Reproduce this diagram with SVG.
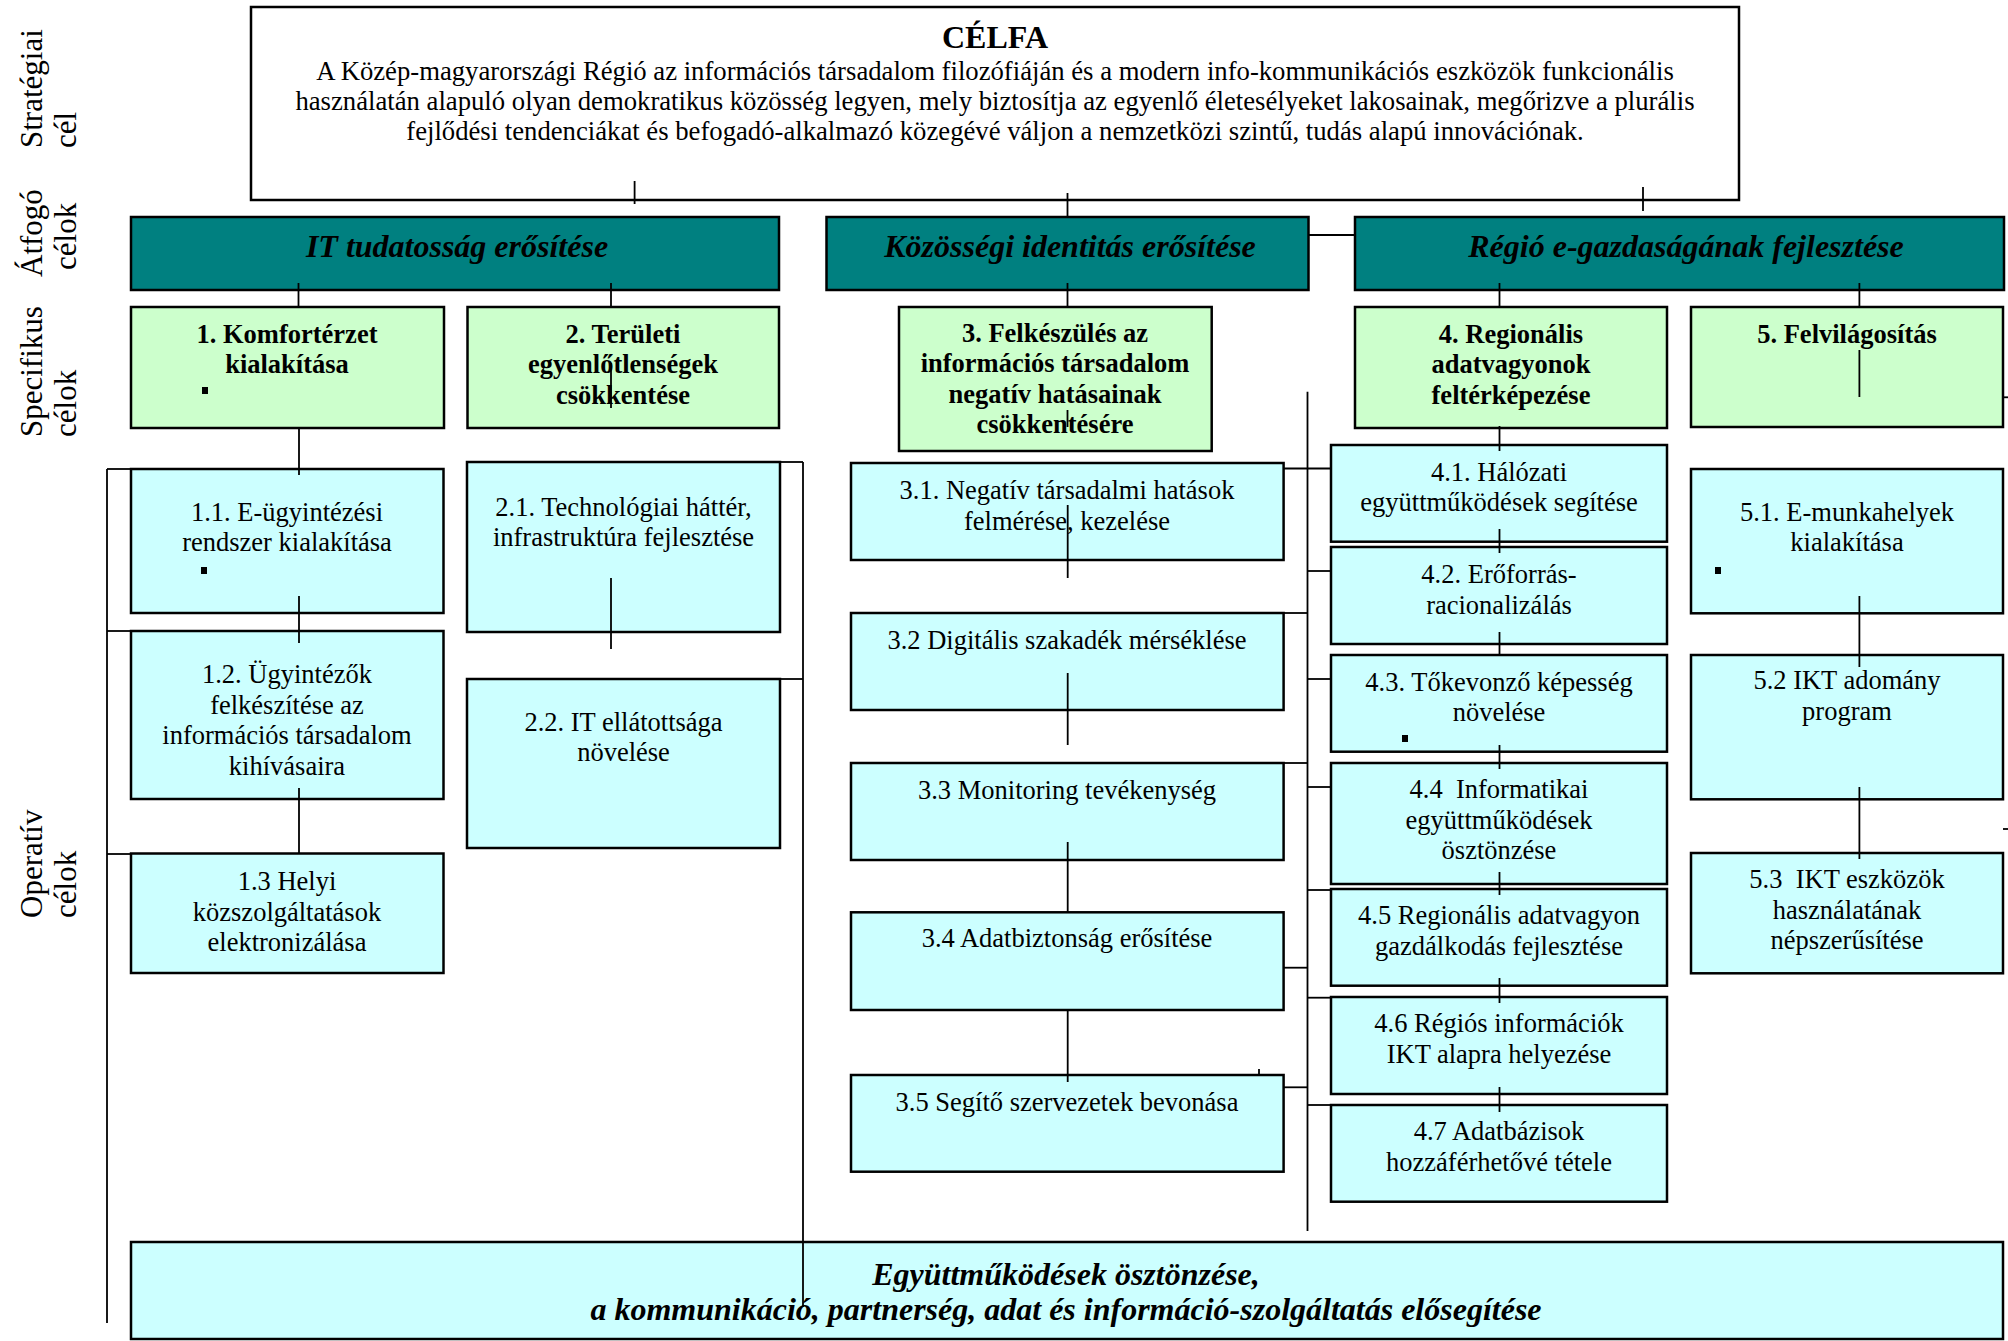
<svg xmlns="http://www.w3.org/2000/svg" width="2008" height="1341" viewBox="0 0 2008 1341">
<style>
  .bx{stroke:#000;stroke-width:2.5}
  .white{fill:#fff}
  .teal{fill:#008080}
  .green{fill:#CCFFCC}
  .cyan{fill:#CCFFFF}
  text{font-family:"Liberation Serif","Times New Roman",serif;fill:#000}
  .t{font-size:26.5px;text-anchor:middle}
  .tb{font-size:26.5px;text-anchor:middle;font-weight:bold}
  .tbi{font-size:32px;text-anchor:middle;font-weight:bold;font-style:italic}
  .body{font-size:26.7px;text-anchor:middle}
  .title{font-size:32px;text-anchor:middle;font-weight:bold}
  .lbl{font-size:31px}
  .cn line{stroke:#000;stroke-width:1.8}
  .dot{fill:#000}
</style>

<g id="labels">
  <text class="lbl" transform="translate(42,148) rotate(-90)">Stratégiai</text>
  <text class="lbl" transform="translate(76,148) rotate(-90)">cél</text>
  <text class="lbl" transform="translate(42,277) rotate(-90)">Átfogó</text>
  <text class="lbl" transform="translate(76,270) rotate(-90)">célok</text>
  <text class="lbl" transform="translate(42,437) rotate(-90)">Specifikus</text>
  <text class="lbl" transform="translate(76,437) rotate(-90)">célok</text>
  <text class="lbl" transform="translate(42,918) rotate(-90)">Operatív</text>
  <text class="lbl" transform="translate(76,918) rotate(-90)">célok</text>
</g>

<g id="celfa">
  <rect class="bx white" x="251" y="7" width="1488" height="193"/>
  <text class="title" x="995" y="48">CÉLFA</text>
  <text class="body" x="995" y="80">A Közép-magyarországi Régió az információs társadalom filozófiáján és a modern info-kommunikációs eszközök funkcionális</text>
  <text class="body" x="995" y="110">használatán alapuló olyan demokratikus közösség legyen, mely biztosítja az egyenlő életesélyeket lakosainak, megőrizve a plurális</text>
  <text class="body" x="995" y="140">fejlődési tendenciákat és befogadó-alkalmazó közegévé váljon a nemzetközi szintű, tudás alapú innovációnak.</text>
</g>

<g id="atfogo1">
  <rect class="bx teal" x="131" y="217" width="648" height="73"/>
  <text class="tbi" x="457" y="257">IT tudatosság erősítése</text>
</g>
<g id="atfogo2">
  <rect class="bx teal" x="826.5" y="217" width="482" height="73"/>
  <text class="tbi" x="1070" y="257">Közösségi identitás erősítése</text>
</g>
<g id="atfogo3">
  <rect class="bx teal" x="1355" y="217" width="649" height="73"/>
  <text class="tbi" x="1686" y="257">Régió e-gazdaságának fejlesztése</text>
</g>

<g id="spec1">
  <rect class="bx green" x="131" y="307" width="313" height="121"/>
  <text class="tb" x="287" y="342.5">1. Komfortérzet</text>
  <text class="tb" x="287" y="373">kialakítása</text>
  <rect class="dot" x="202" y="387" width="6" height="7"/>
</g>
<g id="spec2">
  <rect class="bx green" x="467.5" y="307" width="311.5" height="121"/>
  <text class="tb" x="623" y="342.5">2. Területi</text>
  <text class="tb" x="623" y="373">egyenlőtlenségek</text>
  <text class="tb" x="623" y="403.5">csökkentése</text>
</g>
<g id="spec3">
  <rect class="bx green" x="899" y="307" width="312.7" height="144"/>
  <text class="tb" x="1055" y="341.5">3. Felkészülés az</text>
  <text class="tb" x="1055" y="372">információs társadalom</text>
  <text class="tb" x="1055" y="402.5">negatív hatásainak</text>
  <text class="tb" x="1055" y="433">csökkentésére</text>
</g>
<g id="spec4">
  <rect class="bx green" x="1355" y="307" width="312" height="121"/>
  <text class="tb" x="1511" y="342.5">4. Regionális</text>
  <text class="tb" x="1511" y="373">adatvagyonok</text>
  <text class="tb" x="1511" y="403.5">feltérképezése</text>
</g>
<g id="spec5">
  <rect class="bx green" x="1691" y="307" width="312" height="120"/>
  <text class="tb" x="1847" y="342.5">5. Felvilágosítás</text>
</g>

<g id="op11">
  <rect class="bx cyan" x="131" y="469" width="312.5" height="144"/>
  <text class="t" x="287" y="520.5">1.1. E-ügyintézési</text>
  <text class="t" x="287" y="551">rendszer kialakítása</text>
  <rect class="dot" x="201" y="567" width="6" height="7"/>
</g>
<g id="op12">
  <rect class="bx cyan" x="131" y="631" width="312.5" height="168"/>
  <text class="t" x="287" y="683">1.2. Ügyintézők</text>
  <text class="t" x="287" y="713.5">felkészítése az</text>
  <text class="t" x="287" y="744">információs társadalom</text>
  <text class="t" x="287" y="774.5">kihívásaira</text>
</g>
<g id="op13">
  <rect class="bx cyan" x="131" y="853.5" width="312.5" height="119.5"/>
  <text class="t" x="287" y="890">1.3 Helyi</text>
  <text class="t" x="287" y="920.5">közszolgáltatások</text>
  <text class="t" x="287" y="951">elektronizálása</text>
</g>
<g id="op21">
  <rect class="bx cyan" x="467" y="462" width="313" height="170"/>
  <text class="t" x="623.5" y="515.5">2.1. Technológiai háttér,</text>
  <text class="t" x="623.5" y="546">infrastruktúra fejlesztése</text>
</g>
<g id="op22">
  <rect class="bx cyan" x="467" y="679" width="313" height="169"/>
  <text class="t" x="623.5" y="730.5">2.2. IT ellátottsága</text>
  <text class="t" x="623.5" y="761">növelése</text>
</g>
<g id="op31">
  <rect class="bx cyan" x="851" y="463" width="432.6" height="97"/>
  <text class="t" x="1067" y="499">3.1. Negatív társadalmi hatások</text>
  <text class="t" x="1067" y="529.5">felmérése, kezelése</text>
</g>
<g id="op32">
  <rect class="bx cyan" x="851" y="613" width="432.6" height="97"/>
  <text class="t" x="1067" y="649">3.2 Digitális szakadék mérséklése</text>
</g>
<g id="op33">
  <rect class="bx cyan" x="851" y="763" width="432.6" height="97"/>
  <text class="t" x="1067" y="799">3.3 Monitoring tevékenység</text>
</g>
<g id="op34">
  <rect class="bx cyan" x="851" y="912.3" width="432.6" height="97.7"/>
  <text class="t" x="1067" y="947">3.4 Adatbiztonság erősítése</text>
</g>
<g id="op35">
  <rect class="bx cyan" x="851" y="1075" width="432.6" height="96.7"/>
  <text class="t" x="1067" y="1110.5">3.5 Segítő szervezetek bevonása</text>
</g>
<g id="op41">
  <rect class="bx cyan" x="1331" y="445" width="336" height="96.7"/>
  <text class="t" x="1499" y="480.5">4.1. Hálózati</text>
  <text class="t" x="1499" y="511">együttműködések segítése</text>
</g>
<g id="op42">
  <rect class="bx cyan" x="1331" y="547" width="336" height="97"/>
  <text class="t" x="1499" y="583">4.2. Erőforrás-</text>
  <text class="t" x="1499" y="613.5">racionalizálás</text>
</g>
<g id="op43">
  <rect class="bx cyan" x="1331" y="655" width="336" height="96.7"/>
  <text class="t" x="1499" y="690.5">4.3. Tőkevonző képesség</text>
  <text class="t" x="1499" y="721">növelése</text>
  <rect class="dot" x="1402" y="735" width="6" height="7"/>
</g>
<g id="op44">
  <rect class="bx cyan" x="1331" y="763" width="336" height="121"/>
  <text class="t" x="1499" y="798" xml:space="preserve">4.4  Informatikai</text>
  <text class="t" x="1499" y="828.5">együttműködések</text>
  <text class="t" x="1499" y="859">ösztönzése</text>
</g>
<g id="op45">
  <rect class="bx cyan" x="1331" y="889" width="336" height="96.7"/>
  <text class="t" x="1499" y="924">4.5 Regionális adatvagyon</text>
  <text class="t" x="1499" y="954.5">gazdálkodás fejlesztése</text>
</g>
<g id="op46">
  <rect class="bx cyan" x="1331" y="997" width="336" height="97"/>
  <text class="t" x="1499" y="1032">4.6 Régiós információk</text>
  <text class="t" x="1499" y="1062.5">IKT alapra helyezése</text>
</g>
<g id="op47">
  <rect class="bx cyan" x="1331" y="1105" width="336" height="96.7"/>
  <text class="t" x="1499" y="1140">4.7 Adatbázisok</text>
  <text class="t" x="1499" y="1170.5">hozzáférhetővé tétele</text>
</g>
<g id="op51">
  <rect class="bx cyan" x="1691" y="469" width="312" height="144.3"/>
  <text class="t" x="1847" y="520.5">5.1. E-munkahelyek</text>
  <text class="t" x="1847" y="551">kialakítása</text>
  <rect class="dot" x="1715" y="567" width="6" height="7"/>
</g>
<g id="op52">
  <rect class="bx cyan" x="1691" y="655" width="312" height="144.3"/>
  <text class="t" x="1847" y="689">5.2 IKT adomány</text>
  <text class="t" x="1847" y="719.5">program</text>
</g>
<g id="op53">
  <rect class="bx cyan" x="1691" y="853" width="312" height="120.3"/>
  <text class="t" x="1847" y="888" xml:space="preserve">5.3  IKT eszközök</text>
  <text class="t" x="1847" y="918.5">használatának</text>
  <text class="t" x="1847" y="949">népszerűsítése</text>
</g>
<g id="horizontal">
  <rect class="bx cyan" x="131" y="1242" width="1872" height="97"/>
  <text class="tbi" x="1066" y="1285">Együttműködések ösztönzése,</text>
  <text class="tbi" x="1066" y="1320">a kommunikáció, partnerség, adat és információ-szolgáltatás elősegítése</text>
</g>

<g id="connectors" class="cn">
  <line x1="634.6" y1="181" x2="634.6" y2="204"/>
  <line x1="1067.5" y1="193" x2="1067.5" y2="217"/>
  <line x1="1643" y1="187" x2="1643" y2="211"/>
  <line x1="1308" y1="235" x2="1355" y2="235"/>
  <line x1="298.5" y1="283" x2="298.5" y2="307"/>
  <line x1="611" y1="283" x2="611" y2="307"/>
  <line x1="1067.5" y1="283" x2="1067.5" y2="307"/>
  <line x1="1499.5" y1="283" x2="1499.5" y2="307"/>
  <line x1="1859.4" y1="283" x2="1859.4" y2="307"/>
  <line x1="611" y1="363" x2="611" y2="408"/>
  <line x1="1067.5" y1="410" x2="1067.5" y2="427"/>
  <line x1="1859.4" y1="350" x2="1859.4" y2="397"/>
  <line x1="2003" y1="397.3" x2="2008" y2="397.3"/>
  <line x1="299" y1="428" x2="299" y2="475"/>
  <line x1="299" y1="596" x2="299" y2="643"/>
  <line x1="299" y1="788" x2="299" y2="853"/>
  <line x1="107" y1="469" x2="107" y2="1323"/>
  <line x1="107" y1="469" x2="131" y2="469"/>
  <line x1="107" y1="631" x2="131" y2="631"/>
  <line x1="107" y1="854" x2="131" y2="854"/>
  <line x1="611" y1="578" x2="611" y2="649"/>
  <line x1="803" y1="462" x2="803" y2="1307"/>
  <line x1="780" y1="462" x2="803" y2="462"/>
  <line x1="780" y1="679" x2="803" y2="679"/>
  <line x1="1067.7" y1="505" x2="1067.7" y2="578"/>
  <line x1="1067.7" y1="673" x2="1067.7" y2="745"/>
  <line x1="1067.7" y1="842" x2="1067.7" y2="912"/>
  <line x1="1067.7" y1="1010" x2="1067.7" y2="1082"/>
  <line x1="1259" y1="1069" x2="1259" y2="1075"/>
  <line x1="1307.5" y1="391.7" x2="1307.5" y2="1231"/>
  <line x1="1283" y1="468.5" x2="1331" y2="468.5"/>
  <line x1="1283" y1="613" x2="1307.5" y2="613"/>
  <line x1="1283" y1="763" x2="1307.5" y2="763"/>
  <line x1="1283" y1="967.7" x2="1307.5" y2="967.7"/>
  <line x1="1283" y1="1087.3" x2="1307.5" y2="1087.3"/>
  <line x1="1307.5" y1="571" x2="1331" y2="571"/>
  <line x1="1307.5" y1="679" x2="1331" y2="679"/>
  <line x1="1307.5" y1="787" x2="1331" y2="787"/>
  <line x1="1307.5" y1="890" x2="1331" y2="890"/>
  <line x1="1307.5" y1="997.7" x2="1331" y2="997.7"/>
  <line x1="1307.5" y1="1105" x2="1331" y2="1105"/>
  <line x1="1499.5" y1="426" x2="1499.5" y2="451"/>
  <line x1="1499.5" y1="529" x2="1499.5" y2="553"/>
  <line x1="1499.5" y1="632" x2="1499.5" y2="654"/>
  <line x1="1499.5" y1="745" x2="1499.5" y2="769"/>
  <line x1="1499.5" y1="872" x2="1499.5" y2="895"/>
  <line x1="1499.5" y1="978" x2="1499.5" y2="1003"/>
  <line x1="1499.5" y1="1087" x2="1499.5" y2="1112"/>
  <line x1="1859.4" y1="596" x2="1859.4" y2="667"/>
  <line x1="1859.4" y1="787" x2="1859.4" y2="859"/>
  <line x1="2003" y1="829" x2="2008" y2="829"/>
</g>
</svg>
